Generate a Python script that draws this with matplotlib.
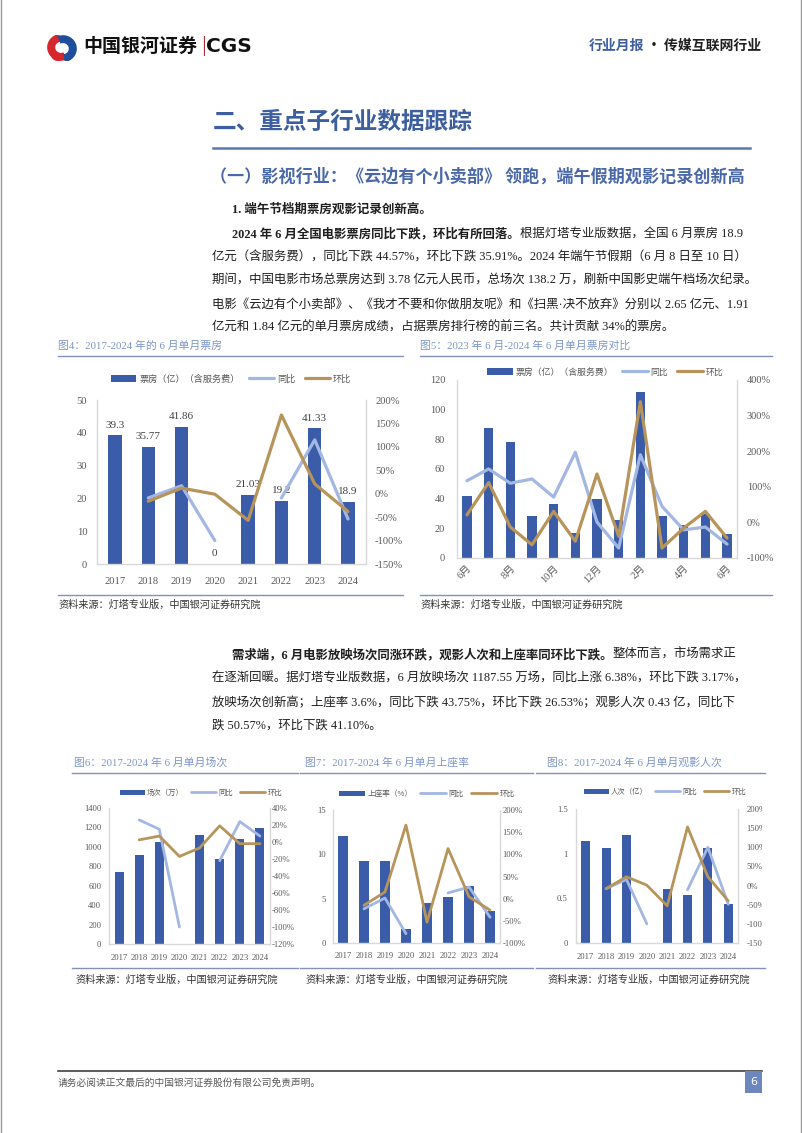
import numpy as np
import matplotlib
matplotlib.use('Agg')
import matplotlib.pyplot as plt
from matplotlib.patches import Rectangle, Wedge
from matplotlib.lines import Line2D

W, H = 802, 1133
SERIF = ['Liberation Serif', 'Noto Sans CJK SC']
SANS = ['Noto Sans CJK SC', 'DejaVu Sans']
plt.rcParams['font.family'] = SANS

BAR_C = '#3A5CA9'
YOY_C = '#A3B7E3'
MOM_C = '#B7945A'
TICK_C = '#595959'
TITLE_C = '#7C95C8'
RULE_C = '#8391B8'
nan = np.nan

# ---------------- data ----------------
years = ['2017', '2018', '2019', '2020', '2021', '2022', '2023', '2024']
box_office = [39.3, 35.77, 41.86, 0, 21.03, 19.2, 41.33, 18.9]
box_yoy = [nan, -9, 17, -100, nan, -9, 115, -54]
box_mom = [nan, -16, 12, -1, -57, 168, 21, -38]

months = ['6月', '7月', '8月', '9月', '10月', '11月', '12月', '1月', '2月', '3月', '4月', '5月', '6月']
month_box = [41.5, 87.5, 78, 28.5, 36.6, 16.8, 39.7, 25.6, 112, 28, 22.4, 29.6, 16.4]
month_yoy = [117, 150, 110, 122, 71, 197, 1, -72, 190, 45, -21, -13, -61]
month_mom = [21, 112, -13, -63, 31, -53, 136, -39, 339, -72, -16, 31, -44]
month_tick_idx = [0, 2, 4, 6, 8, 10, 12]

screenings = [738, 915, 1048, 0, 1120, 878, 1082, 1195]
screen_yoy = [nan, 26, 15, -100, nan, -22, 24, 7]
screen_mom = [nan, 2.5, 7, -17, -7, 19, -2, -2]

occupancy = [12.1, 9.3, 9.3, 1.6, 4.5, 5.2, 6.4, 3.6]
occ_yoy = [nan, -23, 1.5, -79, nan, 13, 26, -42]
occ_mom = [nan, -15, 15, 166, -53, 113, 4, -26]

admissions = [1.147, 1.058, 1.21, 0, 0.609, 0.535, 1.069, 0.438]
adm_yoy = [nan, -8, 16, -100, nan, -11, 100, -49]
adm_mom = [nan, -8, 23, 1, -53, 153, 23, -40]

fig = plt.figure(figsize=(W / 100, H / 100), dpi=100)
fig.patch.set_facecolor('white')
R = fig.canvas.get_renderer()


def T(x, y, s, size, color='#1f1f1f', weight='normal', ha='left', va='center', fam=SERIF, **kw):
    return fig.text(x / W, 1 - y / H, s, fontsize=size, color=color, fontweight=weight,
                    ha=ha, va=va, family=fam, **kw)


def T2(x, y, s_bold, s_norm, size, fam=SERIF, c1='#1f1f1f', c2='#1f1f1f', w2='normal'):
    t1 = T(x, y, s_bold, size, weight='bold', fam=fam, color=c1)
    bb = t1.get_window_extent(R)
    T(bb.x1, y, s_norm, size, weight=w2, fam=fam, color=c2)


def HL(x0, x1, y, color=RULE_C, lw=1.0):
    fig.add_artist(Line2D([x0 / W, x1 / W], [1 - y / H, 1 - y / H], color=color, lw=lw))


def px_rect(x0, y0, x1, y1):
    return [x0 / W, 1 - y1 / H, (x1 - x0) / W, (y1 - y0) / H]


# ---------------- header ----------------
lax = fig.add_axes(px_rect(44, 35, 80, 61))
lax.set_xlim(-1.35, 1.35)
lax.set_ylim(-1, 1)
lax.axis('off')
lax.add_patch(Wedge((-0.08, 0.05), 0.98, 100, 290, width=0.5, color='#D7262E'))
lax.add_patch(Wedge((0.08, -0.05), 0.98, 280, 110, width=0.5, color='#1F4E9C'))
lax.add_patch(Wedge((-0.3, -0.45), 0.5, 150, 330, width=0.3, color='#D7262E'))

T(83, 46, '中国银河证券', 13.7, color='#111111', weight='bold', fam=SANS)
T(201, 46, '|', 13, color='#B0303A', fam=SANS)
T(206, 46, 'CGS', 14.5, color='#111111', weight='bold', fam=['DejaVu Sans'])
T2(589, 46, '行业月报', ' · 传媒互联网行业', 10, fam=SANS, c1='#3F5E9E', c2='#1f1f1f', w2='bold')

# ---------------- section titles ----------------
T(213, 122, '二、重点子行业数据跟踪', 17, color='#3D5FA0', weight='bold', fam=SANS)
HL(213, 750, 148, color='#5B78B0', lw=1.8)
T(210, 177, '（一）影视行业：《云边有个小卖部》 领跑，端午假期观影记录创新高', 12.3,
  color='#4A68A8', weight='bold', fam=SANS)
T(232, 210, '1. 端午节档期票房观影记录创新高。', 9, weight='bold')

BODY = 8.95
T2(232, 234, '2024 年 6 月全国电影票房同比下跌，环比有所回落。', '根据灯塔专业版数据，全国 6 月票房 18.9', BODY)
T(212, 258, '亿元（含服务费），同比下跌 44.57%，环比下跌 35.91%。2024 年端午节假期（6 月 8 日至 10 日）', BODY)
T(212, 281, '期间，中国电影市场总票房达到 3.78 亿元人民币，总场次 138.2 万，刷新中国影史端午档场次纪录。', BODY)
T(212, 305, '电影《云边有个小卖部》、《我才不要和你做朋友呢》和《扫黑·决不放弃》分别以 2.65 亿元、1.91', BODY)
T(212, 328, '亿元和 1.84 亿元的单月票房成绩，占据票房排行榜的前三名。共计贡献 34%的票房。', BODY)

T2(232, 655, '需求端，6 月电影放映场次同涨环跌，观影人次和上座率同环比下跌。', '整体而言，市场需求正', BODY)
T(212, 679, '在逐渐回暖。据灯塔专业版数据，6 月放映场次 1187.55 万场，同比上涨 6.38%，环比下跌 3.17%，', BODY)
T(212, 703, '放映场次创新高；上座率 3.6%，同比下跌 43.75%，环比下跌 26.53%；观影人次 0.43 亿，同比下', BODY)
T(212, 726, '跌 50.57%，环比下跌 41.10%。', BODY)

# ---------------- figure captions / rules ----------------
SRC = '资料来源：灯塔专业版，中国银河证券研究院'
T(58, 346, '图4：2017-2024 年的 6 月单月票房', 7.8, color=TITLE_C)
HL(58, 403, 355.5)
HL(58, 403, 594.5)
T(58, 605, SRC, 7.3, color='#333333')

T(420, 346, '图5：2023 年 6 月-2024 年 6 月单月票房对比', 7.8, color=TITLE_C)
HL(420, 772, 355.5)
HL(420, 772, 594.5)
T(420, 605, SRC, 7.3, color='#333333')

T(74, 763, '图6：2017-2024 年 6 月单月场次', 7.8, color=TITLE_C)
T(305, 763, '图7：2017-2024 年 6 月单月上座率', 7.8, color=TITLE_C)
T(547, 763, '图8：2017-2024 年 6 月单月观影人次', 7.8, color=TITLE_C)
for a, b in [(72, 298), (300, 533), (536, 765)]:
    HL(a, b, 773)
    HL(a, b, 968)
T(75, 980, SRC, 7.3, color='#333333')
T(305, 980, SRC, 7.3, color='#333333')
T(547, 980, SRC, 7.3, color='#333333')


# ---------------- charts ----------------
def combo(box, cats, bars, yoy, mom, ylim, yticks, ylabels, rlim, rticks, xlim, bw,
          fs, fs_leg, leg_xy, bar_name, lpad, rpad, xpad, hl, colsp, lw=2.2,
          xt_idx=None, rotate=False, value_labels=False, vfs=8):
    ax = fig.add_axes(px_rect(*box))
    x = np.arange(len(cats))
    bc = ax.bar(x, bars, width=bw, color=BAR_C, zorder=2)
    ax.set_xlim(*xlim)
    ax.set_ylim(*ylim)
    ax.set_yticks(yticks)
    ax.set_yticklabels(ylabels, fontsize=fs, family=SERIF, color=TICK_C)
    idx = list(range(len(cats))) if xt_idx is None else xt_idx
    ax.set_xticks(idx)
    if rotate:
        ax.set_xticklabels([cats[i] for i in idx], fontsize=fs, family=SERIF, color=TICK_C,
                           rotation=45, ha='right', va='top', rotation_mode='anchor')
    else:
        ax.set_xticklabels([cats[i] for i in idx], fontsize=fs, family=SERIF, color=TICK_C)
    ax.tick_params(axis='y', length=0, pad=lpad)
    ax.tick_params(axis='x', length=0, pad=xpad)
    for s in ['top', 'right']:
        ax.spines[s].set_visible(False)
    for s in ['left', 'bottom']:
        ax.spines[s].set_color('#D9D9D9')
        ax.spines[s].set_linewidth(1.0)
    if value_labels:
        ax.bar_label(bc, labels=[f'{v:g}' for v in bars], padding=4, fontsize=vfs,
                     family=SERIF, color='#404040')
    ax2 = ax.twinx()
    l1, = ax2.plot(x, yoy, color=YOY_C, lw=lw, solid_joinstyle='round', solid_capstyle='round')
    l2, = ax2.plot(x, mom, color=MOM_C, lw=lw, solid_joinstyle='round', solid_capstyle='round')
    ax2.set_ylim(*rlim)
    ax2.set_yticks(rticks)
    ax2.set_yticklabels([f'{v:g}%' for v in rticks], fontsize=fs, family=SERIF, color=TICK_C)
    ax2.tick_params(axis='y', length=0, pad=rpad)
    for s in ['top', 'left', 'bottom']:
        ax2.spines[s].set_visible(False)
    ax2.spines['right'].set_color('#D9D9D9')
    ax2.spines['right'].set_linewidth(1.0)
    leg = ax2.legend([bc, l1, l2], [bar_name, '同比', '环比'], ncol=3, loc='center',
                     bbox_to_anchor=(leg_xy[0] / W, 1 - leg_xy[1] / H),
                     bbox_transform=fig.transFigure, frameon=False,
                     prop={'family': SANS, 'size': fs_leg}, handlelength=hl,
                     handletextpad=0.3, columnspacing=colsp, borderpad=0, borderaxespad=0)
    for t in leg.get_texts():
        t.set_color(TICK_C)
    return ax, ax2


combo((97, 400, 366, 564), years, box_office, box_yoy, box_mom,
      (0, 50), [0, 10, 20, 30, 40, 50], ['0', '10', '20', '30', '40', '50'],
      (-150, 200), [-150, -100, -50, 0, 50, 100, 150, 200],
      (-0.54, 7.54), 0.4, 7.6, 6.6, (231, 379), '票房（亿）（含服务费）',
      7, 6.5, 9, 2.8, 1.0, lw=2.3, value_labels=True, vfs=8)

combo((457, 380, 737, 558), months, month_box, month_yoy, month_mom,
      (0, 120), [0, 20, 40, 60, 80, 100, 120], ['0', '20', '40', '60', '80', '100', '120'],
      (-100, 400), [-100, 0, 100, 200, 300, 400],
      (-0.46, 12.46), 0.43, 7.4, 6.4, (605, 372), '票房（亿）（含服务费）',
      8.5, 7, 4, 2.9, 1.0, lw=2.3, xt_idx=month_tick_idx, rotate=True)

combo((109, 808, 270, 944), years, screenings, screen_yoy, screen_mom,
      (0, 1400), list(range(0, 1401, 200)), [str(v) for v in range(0, 1401, 200)],
      (-120, 40), list(range(-120, 41, 20)),
      (-0.5, 7.5), 0.45, 6.2, 5.3, (201, 793), '场次（万）',
      5.5, 1.5, 7, 3.4, 1.0, lw=2.0)

combo((333, 810, 500, 943), years, occupancy, occ_yoy, occ_mom,
      (0, 15), [0, 5, 10, 15], ['0', '5', '10', '15'],
      (-100, 200), [-100, -50, 0, 50, 100, 150, 200],
      (-0.47, 7.47), 0.45, 6.2, 5.5, (427, 794), '上座率（%）',
      5, 2, 6.5, 3.4, 1.0, lw=2.0)

combo((576, 809, 738, 943), years, admissions, adm_yoy, adm_mom,
      (0, 1.5), [0, 0.5, 1, 1.5], ['0', '0.5', '1', '1.5'],
      (-150, 200), [-150, -100, -50, 0, 50, 100, 150, 200],
      (-0.48, 7.48), 0.45, 6.2, 5.3, (665, 792), '人次（亿）',
      6, 6, 7, 3.4, 1.0, lw=2.0)

# clip region right of chart 8 (labels cut off in the original)
fig.add_artist(Rectangle((762 / W, 1 - 950 / H), 37 / W, 150 / H, transform=fig.transFigure,
                         facecolor='white', edgecolor='none', zorder=5))

# ---------------- footer ----------------
HL(58, 762, 1071, color='#404040', lw=1.2)
T(58, 1083, '请务必阅读正文最后的中国银河证券股份有限公司免责声明。', 7, color='#595959', fam=SANS)
fig.add_artist(Rectangle((745 / W, 1 - 1093 / H), 17 / W, 22 / H, transform=fig.transFigure,
                         facecolor='#6D87BE', edgecolor='none', zorder=5))
T(753.5, 1082, '6', 8, color='white', ha='center', fam=['DejaVu Sans'], zorder=6)

# page borders
for xx in [0.6, 800.6]:
    fig.add_artist(Line2D([xx / W, xx / W], [0, 1], color='#9A9A9A', lw=1.0, zorder=7))

fig.savefig('out.png', dpi=100, facecolor='white')
